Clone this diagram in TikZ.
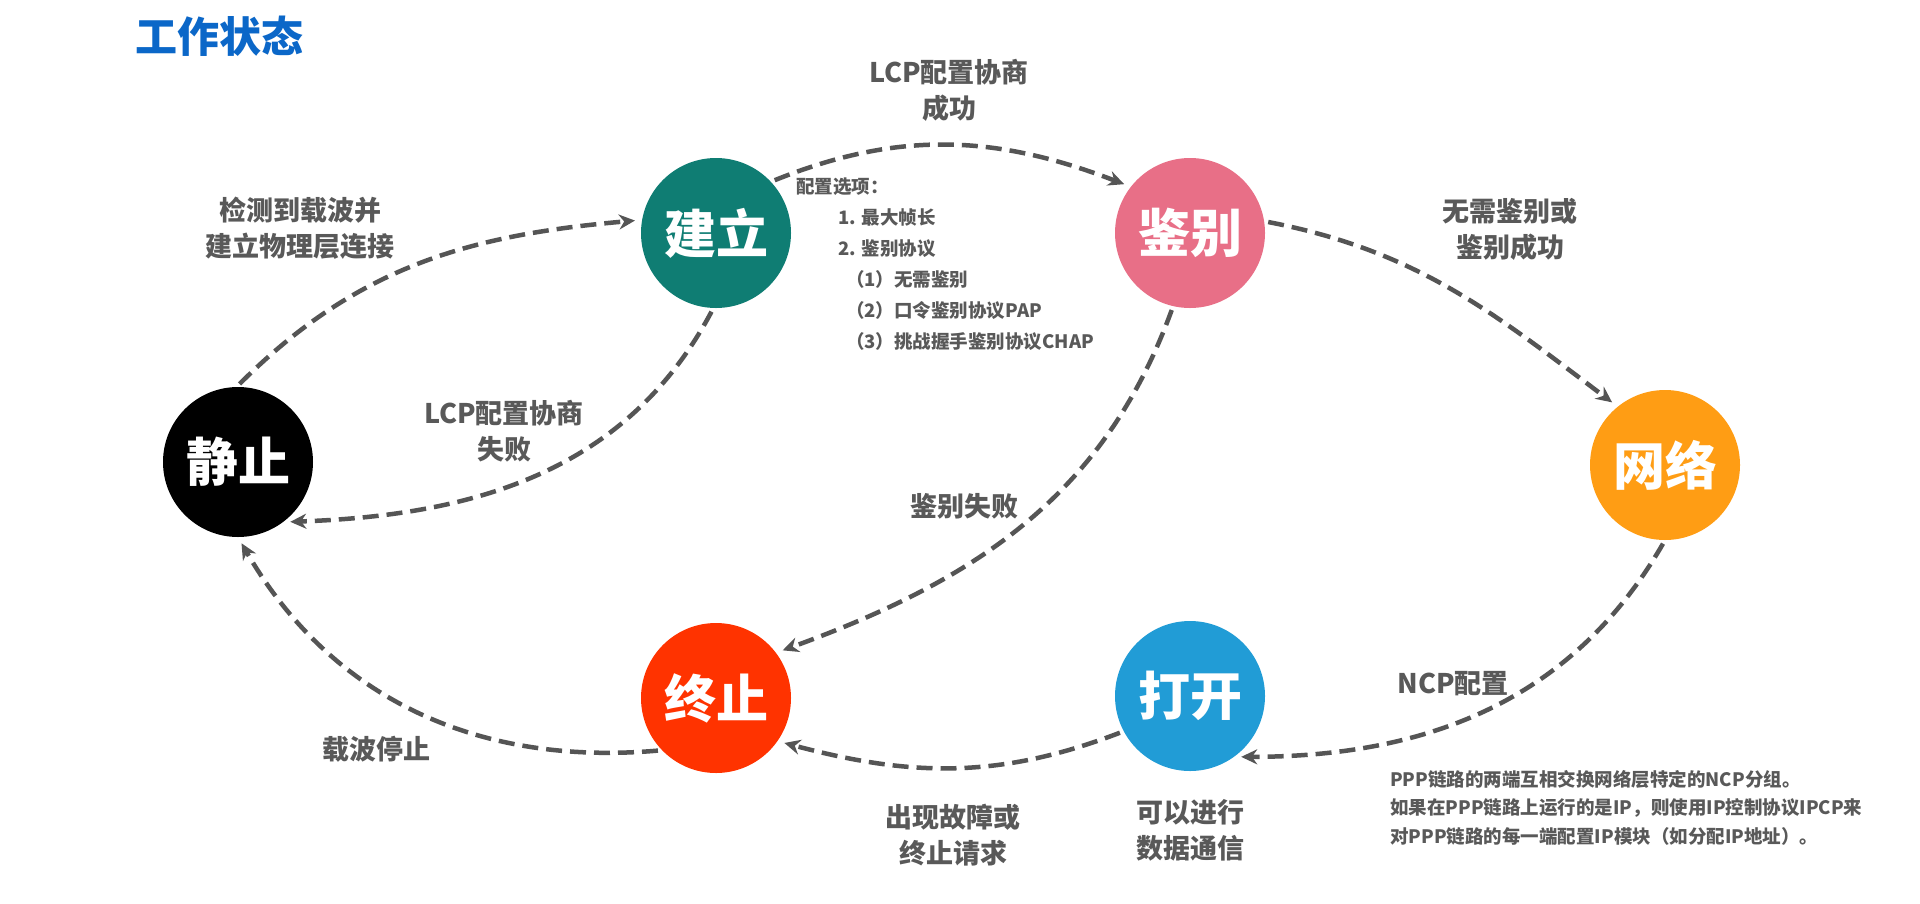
\documentclass[tikz,border=0pt]{standalone}
\usepackage{xcolor}
\usepackage{fontspec}
\setmainfont{Noto Sans CJK SC}
\usepackage{tikz}
\usetikzlibrary{arrows.meta}
\definecolor{tealA}{HTML}{0F7D73}
\definecolor{pinkA}{HTML}{E86F87}
\definecolor{orangeA}{HTML}{FF9D14}
\definecolor{redA}{HTML}{FF3300}
\definecolor{blueA}{HTML}{219CD6}
\definecolor{blueT}{HTML}{0B67C8}
\definecolor{grayT}{HTML}{595959}
\definecolor{grayL}{HTML}{555555}

\begin{document}
\begin{tikzpicture}[x=1pt, y=1pt,
  ball/.style={circle, inner sep=0pt, minimum size=150pt, text=white, font=\fontsize{52}{52}\selectfont\bfseries},
  link/.style={draw=grayL, line width=4.5pt, dash pattern=on 16pt off 8pt, -{Stealth[length=16pt,width=15pt]}, shorten <=4pt, shorten >=7pt},
  tag/.style={text=grayT, align=center, font=\fontsize{27}{36}\selectfont\bfseries}]
\fill[white] (0,0) rectangle (1920,-903);
\useasboundingbox (0,0) rectangle (1920,-903);
\node[anchor=west, inner sep=0pt, text=blueT, font=\fontsize{42}{42}\selectfont\bfseries] (title) at (135,-36) {工作状态};
\node[ball, fill=black] (circleRest) at (238,-462) {静止};
\node[ball, fill=tealA] (circleUp) at (716,-233) {建立};
\node[ball, fill=pinkA] (circleAuth) at (1190,-233) {鉴别};
\node[ball, fill=orangeA] (circleNet) at (1665,-465) {网络};
\node[ball, fill=redA] (circleEnd) at (716,-698) {终止};
\node[ball, fill=blueA] (circleOpen) at (1190,-696) {打开};
\node[tag] (text0) at (300,-228) {检测到载波并\\建立物理层连接};
\node[tag] (text1) at (504,-431) {LCP配置协商\\失败};
\node[tag] (text2) at (376,-749) {载波停止};
\node[tag] (text3) at (949,-90) {LCP配置协商\\成功};
\node[tag] (text4) at (964,-506) {鉴别失败};
\node[tag] (text5) at (1510,-229) {无需鉴别或\\鉴别成功};
\node[tag] (text6) at (1453,-684) {NCP配置};
\node[tag] (text7) at (953,-835) {出现故障或\\终止请求};
\node[tag] (text8) at (1190,-830) {可以进行\\数据通信};
\node[anchor=north west, align=left, inner sep=0pt, text=grayT, font=\fontsize{18.5}{31}\selectfont\bfseries] (text9) at (796,-178) {配置选项：\\\hspace*{42pt}1. 最大帧长\\\hspace*{42pt}2. 鉴别协议\\\hspace*{50pt}（1）无需鉴别\\\hspace*{50pt}（2）口令鉴别协议PAP\\\hspace*{50pt}（3）挑战握手鉴别协议CHAP};
\node[anchor=north west, align=left, inner sep=0pt, text=grayT, font=\fontsize{18.5}{28.5}\selectfont\bfseries] (text10) at (1390,-770) {PPP链路的两端互相交换网络层特定的NCP分组。\\如果在PPP链路上运行的是IP，则使用IP控制协议IPCP来\\对PPP链路的每一端配置IP模块（如分配IP地址）。};
\draw[link] (circleRest.91) to[out=45, in=185] (circleUp.170);
\draw[link] (circleUp.268) to[out=242, in=2] (circleRest.-53);
\draw[link] (circleUp.43) to[out=22, in=159] (circleAuth.142);
\draw[link] (circleAuth.9) to[out=-11, in=143] (circleNet.129);
\draw[link] (circleNet.270) to[out=240, in=0] (circleOpen.-54);
\draw[link] (circleOpen.208) to[out=201, in=-15] (circleEnd.-35);
\draw[link] (circleEnd.224) to[out=185, in=-60] (circleRest.270);
\draw[link] (circleAuth.257) to[out=250, in=20] (circleEnd.37);
\end{tikzpicture}
\end{document}
